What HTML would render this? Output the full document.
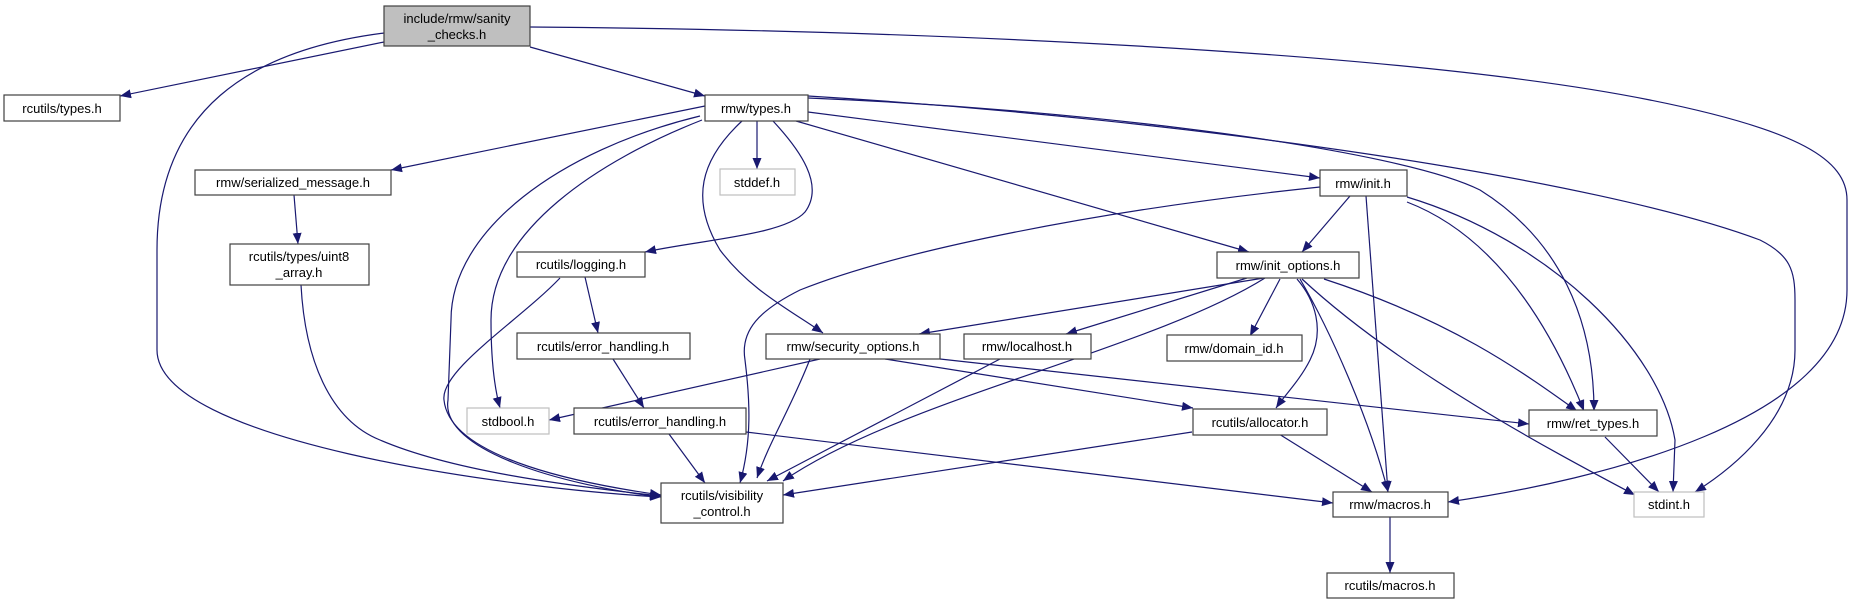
<!DOCTYPE html>
<html><head><meta charset="utf-8"><style>
html,body{margin:0;padding:0;background:#fff;}
svg{display:block;}
text{font-family:"Liberation Sans","DejaVu Sans",sans-serif;font-size:13px;fill:#000;}
</style></head><body>
<svg width="1852" height="604" viewBox="0 0 1852 604" xmlns="http://www.w3.org/2000/svg">
<defs>
<marker id="a" markerUnits="userSpaceOnUse" markerWidth="12" markerHeight="10" refX="11" refY="4.5" orient="auto">
<path d="M0,0 L11,4.5 L0,9 z" fill="#191970"/>
</marker>
</defs>
<g fill="none" stroke="#191970" stroke-width="1.2" marker-end="url(#a)">
<path d="M384,42 L120,96"/>
<path d="M384,33 C250,50 157,110 157,250 L157,350 C157,440 500,488 661,497"/>
<path d="M530,47 L705,96"/>
<path d="M530,27 C900,30 1400,50 1650,100 C1800,130 1847,160 1847,200 L1847,290 C1847,420 1600,480 1448,502"/>
<path d="M705,106 L391,170"/>
<path d="M757,121 L757,169"/>
<path d="M808,112 L1320,178"/>
<path d="M796,121 L1249,252"/>
<path d="M773,121 C800,150 825,185 805,212 C785,235 700,240 645,252"/>
<path d="M742,121 C700,160 690,200 720,250 C750,290 790,310 823,333"/>
<path d="M700,116 C560,150 451,230 451,320 L448,400 C440,450 560,485 661,497"/>
<path d="M702,120 C600,160 491,230 491,320 C491,360 495,390 500,408"/>
<path d="M808,98 C1100,110 1400,150 1480,190 C1560,240 1594,320 1594,411"/>
<path d="M808,96 C1200,120 1600,180 1760,240 C1790,255 1795,270 1795,300 L1795,350 C1795,420 1730,470 1695,492"/>
<path d="M294,195 L298,244"/>
<path d="M301,285 C305,360 330,420 380,440 C450,470 560,485 661,496"/>
<path d="M585,277 L598,333"/>
<path d="M560,278 C520,320 440,370 444,400 C450,460 590,485 661,495"/>
<path d="M613,359 L644,408"/>
<path d="M669,434 L705,483"/>
<path d="M746,432 L1333,503"/>
<path d="M1350,196 L1302,252"/>
<path d="M1320,187 C1100,210 900,250 800,290 C760,310 740,330 745,360 C750,400 752,440 740,483"/>
<path d="M1366,196 L1388,492"/>
<path d="M1407,202 C1480,230 1540,300 1584,411"/>
<path d="M1407,197 C1550,240 1660,350 1675,440 L1673,492"/>
<path d="M1270,277 L919,334"/>
<path d="M1247,278 L1066,334"/>
<path d="M1280,279 L1250,336"/>
<path d="M1265,278 C1150,350 900,400 783,481"/>
<path d="M1297,279 C1315,300 1325,330 1310,360 C1300,380 1285,395 1276,408"/>
<path d="M1300,279 C1330,330 1370,420 1388,492"/>
<path d="M1302,279 C1400,370 1550,450 1635,495"/>
<path d="M1324,279 C1450,320 1520,370 1577,411"/>
<path d="M820,359 L549,420"/>
<path d="M810,359 C790,410 770,440 757,478"/>
<path d="M885,359 L1193,408"/>
<path d="M940,359 L1529,424"/>
<path d="M1000,359 L767,481"/>
<path d="M1192,432 L783,495"/>
<path d="M1279,434 L1372,492"/>
<path d="M1605,437 L1659,492"/>
<path d="M1390,517 L1390,573"/>
</g>
<g stroke-width="1.2">
<rect x="384" y="6" width="146" height="40" fill="#bfbfbf" stroke="#404040"/>
<rect x="4" y="95" width="116" height="26" fill="#fff" stroke="#404040"/>
<rect x="705" y="95" width="103" height="26" fill="#fff" stroke="#404040"/>
<rect x="195" y="170" width="196" height="25" fill="#fff" stroke="#404040"/>
<rect x="720" y="169" width="75" height="26" fill="#fff" stroke="#bfbfbf"/>
<rect x="1320" y="170" width="87" height="26" fill="#fff" stroke="#404040"/>
<rect x="230" y="244" width="139" height="41" fill="#fff" stroke="#404040"/>
<rect x="517" y="252" width="128" height="25" fill="#fff" stroke="#404040"/>
<rect x="1217" y="252" width="142" height="26" fill="#fff" stroke="#404040"/>
<rect x="517" y="333" width="173" height="26" fill="#fff" stroke="#404040"/>
<rect x="766" y="334" width="174" height="25" fill="#fff" stroke="#404040"/>
<rect x="964" y="334" width="127" height="25" fill="#fff" stroke="#404040"/>
<rect x="1167" y="335" width="135" height="26" fill="#fff" stroke="#404040"/>
<rect x="467" y="408" width="82" height="26" fill="#fff" stroke="#bfbfbf"/>
<rect x="574" y="408" width="172" height="26" fill="#fff" stroke="#404040"/>
<rect x="1193" y="409" width="134" height="26" fill="#fff" stroke="#404040"/>
<rect x="1529" y="410" width="128" height="26" fill="#fff" stroke="#404040"/>
<rect x="661" y="483" width="122" height="40" fill="#fff" stroke="#404040"/>
<rect x="1333" y="492" width="115" height="25" fill="#fff" stroke="#404040"/>
<rect x="1634" y="492" width="70" height="25" fill="#fff" stroke="#bfbfbf"/>
<rect x="1327" y="573" width="127" height="25" fill="#fff" stroke="#404040"/>
</g>
<g text-anchor="middle">
<text x="457" y="23">include/rmw/sanity</text>
<text x="457" y="39">_checks.h</text>
<text x="62" y="113">rcutils/types.h</text>
<text x="756" y="113">rmw/types.h</text>
<text x="293" y="187">rmw/serialized_message.h</text>
<text x="757" y="187">stddef.h</text>
<text x="1363" y="188">rmw/init.h</text>
<text x="299" y="261">rcutils/types/uint8</text>
<text x="299" y="277">_array.h</text>
<text x="581" y="269">rcutils/logging.h</text>
<text x="1288" y="270">rmw/init_options.h</text>
<text x="603" y="351">rcutils/error_handling.h</text>
<text x="853" y="351">rmw/security_options.h</text>
<text x="1027" y="351">rmw/localhost.h</text>
<text x="1234" y="353">rmw/domain_id.h</text>
<text x="508" y="426">stdbool.h</text>
<text x="660" y="426">rcutils/error_handling.h</text>
<text x="1260" y="427">rcutils/allocator.h</text>
<text x="1593" y="428">rmw/ret_types.h</text>
<text x="722" y="500">rcutils/visibility</text>
<text x="722" y="516">_control.h</text>
<text x="1390" y="509">rmw/macros.h</text>
<text x="1669" y="509">stdint.h</text>
<text x="1390" y="590">rcutils/macros.h</text>
</g>
</svg>
</body></html>
